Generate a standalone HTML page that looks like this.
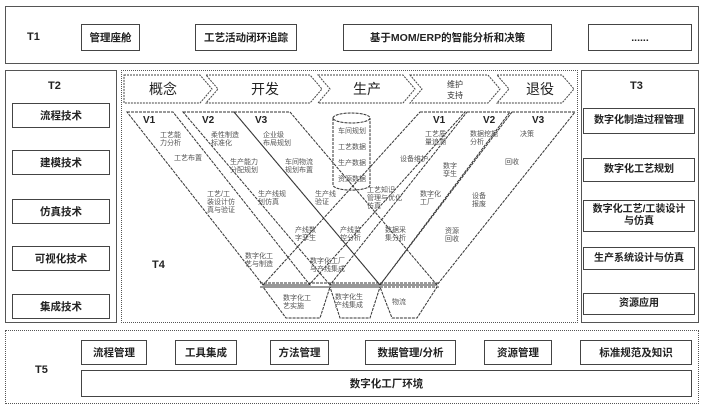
<!DOCTYPE html>
<html><head><meta charset="utf-8"><style>
html,body{margin:0;padding:0;background:#fff;}
body{width:704px;height:409px;position:relative;overflow:hidden;font-family:"Liberation Sans","Noto Sans CJK SC",sans-serif;}
.p{position:absolute;border:1px solid #555;box-sizing:border-box;}
.b{position:absolute;border:1.5px solid #444;box-sizing:border-box;display:flex;align-items:center;justify-content:center;text-align:center;font-size:10.5px;font-weight:bold;color:#222;line-height:12px;background:#fff;}
.r .b{font-size:10px;}
.l{position:absolute;font-size:11px;font-weight:bold;color:#222;}
</style></head><body>
<div class="p" style="left:5px;top:6px;width:694px;height:58px;"></div>
<div class="l" style="left:27px;top:31px;">T1</div>
<div class="b" style="left:81px;top:24px;width:59px;height:27px;">管理座舱</div>
<div class="b" style="left:195px;top:24px;width:102px;height:27px;">工艺活动闭环追踪</div>
<div class="b" style="left:343px;top:24px;width:209px;height:27px;">基于MOM/ERP的智能分析和决策</div>
<div class="b" style="left:588px;top:24px;width:104px;height:27px;">......</div>

<div class="p" style="left:5px;top:70px;width:112px;height:253px;"></div>
<div class="l" style="left:48px;top:80px;">T2</div>
<div class="b" style="left:12px;top:103px;width:98px;height:25px;">流程技术</div>
<div class="b" style="left:12px;top:150px;width:98px;height:25px;">建模技术</div>
<div class="b" style="left:12px;top:199px;width:98px;height:25px;">仿真技术</div>
<div class="b" style="left:12px;top:246px;width:98px;height:25px;">可视化技术</div>
<div class="b" style="left:12px;top:294px;width:98px;height:25px;">集成技术</div>

<div class="r">
<div class="p" style="left:581px;top:70px;width:118px;height:253px;"></div>
<div class="l" style="left:630px;top:80px;">T3</div>
<div class="b" style="left:583px;top:108px;width:112px;height:26px;">数字化制造过程管理</div>
<div class="b" style="left:583px;top:158px;width:112px;height:24px;">数字化工艺规划</div>
<div class="b" style="left:583px;top:200px;width:112px;height:32px;padding:0 6px;">数字化工艺/工装设计与仿真</div>
<div class="b" style="left:583px;top:247px;width:112px;height:23px;">生产系统设计与仿真</div>
<div class="b" style="left:583px;top:293px;width:112px;height:22px;">资源应用</div>
</div>

<div class="p" style="left:121px;top:70px;width:457px;height:253px;border-style:dotted;"></div>
<svg style="position:absolute;left:0;top:0" width="704" height="409" font-family="Liberation Sans,Noto Sans CJK SC,sans-serif">
<g fill="#fff" stroke="#444" stroke-width="1" stroke-dasharray="2,1">
<polygon points="124,75 200,75 212,89 200,103 124,103"/>
<polygon points="206,75 310,75 322,89 310,103 206,103 218,89"/>
<polygon points="318,75 403,75 415,89 403,103 318,103 330,89"/>
<polygon points="410,75 488,75 500,89 488,103 410,103 422,89"/>
<polygon points="497,75 562,75 574,89 562,103 497,103 509,89"/>
</g>
<g font-size="14" fill="#222" text-anchor="middle">
<text x="163" y="94">概念</text><text x="265" y="94">开发</text><text x="367" y="94">生产</text><text x="540" y="94">退役</text>
</g>
<text x="455" y="87" font-size="8" text-anchor="middle" fill="#333">维护</text>
<text x="455" y="98" font-size="8" text-anchor="middle" fill="#333">支持</text>
<g fill="none" stroke="#333" stroke-width="1" stroke-dasharray="3,1">
<polygon points="127,112 173,112 310,285 263,285"/>
<polygon points="183,112 234,112 380,285 330,285"/>
<polygon points="234,112 290,112 437,285 380,285"/>
<polygon points="420,112 465,112 309,285 263,285"/>
<polygon points="467,112 510,112 380,285 330,285"/>
<polygon points="512,112 575,112 437,285 380,285"/>
<line x1="260" y1="283" x2="440" y2="283"/>
<line x1="260" y1="287" x2="440" y2="287"/>
<polygon points="263,287 330,287 320,318 286,318"/>
<polygon points="330,287 380,287 370,318 340,318"/>
<polygon points="380,287 437,287 417,318 392,318"/>
<path d="M333,118 L333,185 A18,5 0 0 0 370,185 L370,118"/>
<ellipse cx="351.5" cy="118" rx="18.5" ry="5"/>
</g>
<g font-size="10" font-weight="bold" fill="#222">
<text x="143" y="123">V1</text><text x="202" y="123">V2</text><text x="255" y="123">V3</text>
<text x="433" y="123">V1</text><text x="483" y="123">V2</text><text x="532" y="123">V3</text>
<text x="152" y="268" font-size="11">T4</text>
</g>
<g font-size="7" fill="#555">
<text x="160" y="137">工艺能</text><text x="160" y="145">力分析</text>
<text x="174" y="160">工艺布置</text>
<text x="211" y="137">柔性制造</text><text x="211" y="145">标准化</text>
<text x="230" y="164">生产能力</text><text x="230" y="172">分配规划</text>
<text x="263" y="137">企业级</text><text x="263" y="145">布局规划</text>
<text x="285" y="164">车间物流</text><text x="285" y="172">规划布置</text>
<text x="207" y="196">工艺/工</text><text x="207" y="204">装设计仿</text><text x="207" y="212">真与验证</text>
<text x="258" y="196">生产线规</text><text x="258" y="204">划仿真</text>
<text x="315" y="196">生产线</text><text x="315" y="204">验证</text>
<text x="338" y="133">车间规划</text><text x="338" y="149">工艺数据</text><text x="338" y="165">生产数据</text><text x="338" y="181">资源数据</text>
<text x="425" y="136">工艺质</text><text x="425" y="144">量追溯</text>
<text x="400" y="161">设备维护</text>
<text x="367" y="192">工艺知识</text><text x="367" y="200">管理与优化</text><text x="367" y="208">仿真</text>
<text x="470" y="136">数据挖掘</text><text x="470" y="144">分析</text>
<text x="443" y="168">数字</text><text x="443" y="176">孪生</text>
<text x="420" y="196">数字化</text><text x="420" y="204">工厂</text>
<text x="520" y="136">决策</text><text x="505" y="164">回收</text>
<text x="472" y="198">设备</text><text x="472" y="206">报废</text>
<text x="295" y="232">产线数</text><text x="295" y="240">字孪生</text>
<text x="340" y="232">产线监</text><text x="340" y="240">控分析</text>
<text x="385" y="232">数据采</text><text x="385" y="240">集分析</text>
<text x="445" y="233">资源</text><text x="445" y="241">回收</text>
<text x="245" y="258">数字化工</text><text x="245" y="266">艺与制造</text>
<text x="310" y="263">数字化工厂</text><text x="310" y="271">与产线集成</text>
<text x="283" y="300">数字化工</text><text x="283" y="308">艺实施</text>
<text x="335" y="299">数字化生</text><text x="335" y="307">产线集成</text>
<text x="392" y="304">物流</text>
</g>
</svg>

<div class="p" style="left:5px;top:330px;width:694px;height:74px;border-style:dotted;"></div>
<div class="l" style="left:35px;top:364px;">T5</div>
<div class="b" style="left:81px;top:340px;width:66px;height:25px;">流程管理</div>
<div class="b" style="left:175px;top:340px;width:62px;height:25px;">工具集成</div>
<div class="b" style="left:270px;top:340px;width:59px;height:25px;">方法管理</div>
<div class="b" style="left:365px;top:340px;width:91px;height:25px;">数据管理/分析</div>
<div class="b" style="left:484px;top:340px;width:68px;height:25px;">资源管理</div>
<div class="b" style="left:580px;top:340px;width:112px;height:25px;">标准规范及知识</div>
<div class="b" style="left:81px;top:370px;width:611px;height:27px;">数字化工厂环境</div>
</body></html>
